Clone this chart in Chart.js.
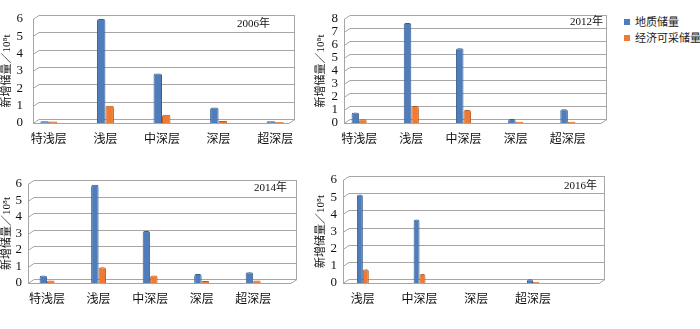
<!DOCTYPE html>
<html>
<head>
<meta charset="utf-8">
<script src="https://cdn.jsdelivr.net/npm/chart.js@4"></script>
<style>
  body { margin: 0; background: #fff; width: 700px; height: 329px; position: relative; overflow: hidden; }
  canvas { position: absolute; }
  #legend { position: absolute; left: 624px; top: 14px; font: 11px 'Liberation Serif', 'Noto Sans CJK SC', serif; color: #222; }
  #legend div { height: 16px; line-height: 16px; white-space: nowrap; }
  #legend span { display: inline-block; width: 6px; height: 6px; margin-right: 5px; vertical-align: 1px; }
</style>
</head>
<body>
<canvas id="c2006" width="305" height="150" style="left:0;top:0"></canvas>
<canvas id="c2012" width="300" height="150" style="left:310px;top:0"></canvas>
<canvas id="c2014" width="305" height="160" style="left:0;top:160px"></canvas>
<canvas id="c2016" width="300" height="160" style="left:310px;top:160px"></canvas>
<div id="legend"></div>
<script>
// data (10^8 t)
const layers = ["特浅层", "浅层", "中深层", "深层", "超深层"];
const layers2016 = ["浅层", "中深层", "深层", "超深层"];
const seriesNames = ["地质储量", "经济可采储量"];
const years = ["2006年", "2012年", "2014年", "2016年"];

const geo2006 = [0.1, 6.0, 2.85, 0.9, 0.1];
const eco2006 = [0.08, 1.0, 0.48, 0.12, 0.06];
const geo2012 = [0.8, 7.7, 5.75, 0.3, 1.05];
const eco2012 = [0.28, 1.3, 1.0, 0.1, 0.1];
const geo2014 = [0.45, 5.95, 3.15, 0.55, 0.65];
const eco2014 = [0.15, 0.95, 0.45, 0.12, 0.15];
const geo2016 = [5.15, 3.7, 0, 0.22];
const eco2016 = [0.8, 0.52, 0, 0.06];

const yMax = [6, 8, 6, 6];

const colors = ["#4f7dbb", "#ee7a33"];
const borders = ["#385d8c", "#b85a1c"];
const font = "'Liberation Serif', 'Noto Sans CJK SC', serif";

// draws the 3D wall / floor lines from the scales
const depthPlugin = {
  id: "depth",
  beforeDatasetsDraw(chart, args, opts) {
    const ctx = chart.ctx;
    const a = chart.chartArea;
    const y = chart.scales.y;
    const dx = 6, dy = 4;
    ctx.save();
    ctx.strokeStyle = "#aaa5a5";
    ctx.lineWidth = 1;
    ctx.beginPath();
    y.ticks.forEach(function (t) {
      const py = Math.round(y.getPixelForValue(t.value)) + 0.5;
      if (t.value === 0) {
        ctx.moveTo(a.left, py);
        ctx.lineTo(a.right - dx, py);
        ctx.lineTo(a.right, py - dy);
      }
      ctx.moveTo(a.left, py);
      ctx.lineTo(a.left + dx, py - dy);
      ctx.lineTo(a.right, py - dy);
    });
    ctx.moveTo(a.left + 0.5, a.top);
    ctx.lineTo(a.left + 0.5, a.bottom);
    ctx.moveTo(a.right - 0.5, a.top - dy);
    ctx.lineTo(a.right - 0.5, a.bottom - dy);
    ctx.stroke();
    ctx.restore();
  },
  afterDraw(chart, args, opts) {
    const ctx = chart.ctx;
    const a = chart.chartArea;
    ctx.save();
    ctx.font = "11px " + font;
    ctx.fillStyle = "#111";
    ctx.textAlign = "right";
    ctx.textBaseline = "middle";
    ctx.fillText(opts.year, a.right - opts.dx, a.top + opts.dy);
    ctx.restore();
  }
};

function makeChart(id, cats, geo, eco, max, lay) {
  new Chart(document.getElementById(id), {
    type: "bar",
    plugins: [depthPlugin],
    data: {
      datasets: [geo, eco].map(function (vals, k) {
        return {
          label: seriesNames[k],
          data: vals.map(function (v, i) { return { x: i, y: v }; }),
          backgroundColor: colors[k],
          borderColor: borders[k],
          borderWidth: 1,
          borderSkipped: "bottom",
          borderRadius: { topLeft: 2, topRight: 2 },
          categoryPercentage: lay.cp,
          barPercentage: 1
        };
      })
    },
    options: {
      responsive: false,
      animation: false,
      layout: { padding: { top: lay.top, right: lay.right, left: 0, bottom: 0 } },
      plugins: {
        legend: { display: false },
        tooltip: { enabled: false },
        depth: { year: lay.year, dx: lay.yx, dy: lay.yy }
      },
      scales: {
        x: {
          type: "linear",
          offset: false,
          min: lay.xmin,
          max: lay.xmax,
          grid: { display: false, drawTicks: false },
          border: { display: false },
          afterBuildTicks: function (s) { s.ticks = cats.map(function (c, i) { return { value: i }; }); },
          afterFit: function (s) { s.height = lay.xh; },
          ticks: {
            autoSkip: false,
            maxRotation: 0,
            padding: lay.xpad,
            color: "#111",
            font: { family: font, size: 12 },
            callback: function (v) { return cats[v]; }
          }
        },
        y: {
          min: 0,
          max: max,
          grid: { display: false, drawTicks: false },
          border: { display: false },
          afterFit: function (s) { s.width = lay.yw; },
          ticks: { stepSize: 1, autoSkip: false, padding: lay.ypad, color: "#111", font: { family: font, size: 13 } },
          title: {
            display: true,
            text: "新增储量／10⁸t",
            color: "#111",
            padding: { top: lay.tpad, bottom: 0 },
            font: { family: font, size: 11 }
          }
        }
      }
    }
  });
}

makeChart("c2006", layers, geo2006, eco2006, yMax[0],
  { top: 19, right: 10, yw: 33, xh: 27, xmin: -0.28, xmax: 4.35, cp: 0.3, xpad: 10, ypad: 10, tpad: 1, year: years[0], yx: 25, yy: 5 });
makeChart("c2012", layers, geo2012, eco2012, yMax[1],
  { top: 19, right: 3, yw: 34, xh: 27, xmin: -0.29, xmax: 4.75, cp: 0.29, xpad: 10, ypad: 6, tpad: 5, year: years[1], yx: 4, yy: 3 });
makeChart("c2014", layers, geo2014, eco2014, yMax[2],
  { top: 24, right: 8, yw: 28, xh: 37, xmin: -0.37, xmax: 4.85, cp: 0.29, xpad: 10, ypad: 6, tpad: 1, year: years[2], yx: 10, yy: 4 });
makeChart("c2016", layers2016, geo2016, eco2016, yMax[3],
  { top: 20, right: 5, yw: 33, xh: 37, xmin: -0.35, xmax: 4.27, cp: 0.21, xpad: 10, ypad: 6, tpad: 5, year: years[3], yx: 8, yy: 6 });

const legend = document.getElementById("legend");
seriesNames.forEach(function (name, k) {
  const row = document.createElement("div");
  const box = document.createElement("span");
  box.style.background = colors[k];
  row.appendChild(box);
  row.appendChild(document.createTextNode(name));
  legend.appendChild(row);
});
</script>
</body>
</html>
